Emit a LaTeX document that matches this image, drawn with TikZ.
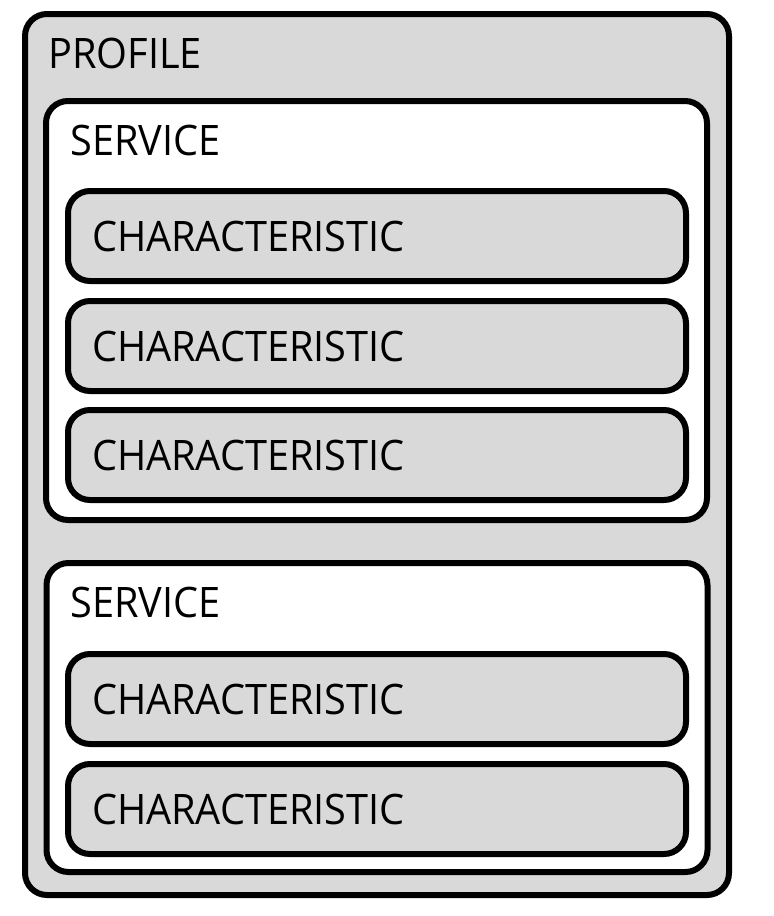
\documentclass[tikz,border=0pt]{standalone}
\usepackage{fontspec}
\setmainfont{Open Sans}[FakeStretch=0.945]
\definecolor{boxgray}{RGB}{217,217,217}

\begin{document}
\begin{tikzpicture}[
  x=0.5pt, y=-0.5pt,
  frame/.style={draw, line width=3pt, rounded corners=11pt, inner sep=0pt},
  profilebox/.style={frame, fill=boxgray, minimum width=352pt, minimum height=440.5pt},
  servicebox/.style={frame, fill=white, minimum width=330.5pt},
  charbox/.style={frame, fill=boxgray, minimum width=309pt, minimum height=45pt,
    text width=285pt, inner xsep=12pt, align=left, font=\titlefont},
  title/.style={anchor=base west, inner sep=0pt, font=\titlefont}
]
\newcommand{\titlefont}{\fontsize{21}{25}\selectfont}
\useasboundingbox (0,0) rectangle (774,916);

\node[profilebox] (profile) at (377,454.5) {};
\node[title] (profiletitle) at (48,68) {PROFILE};

% first service
\node[servicebox, minimum height=209.5pt] (svc1) at (376.5,310.5) {};
\node[title] (svc1title) at (70,155) {SERVICE};
\node[charbox] (char1) at (377,236) {CHARACTERISTIC};
\node[charbox] (char2) at (377,346) {CHARACTERISTIC};
\node[charbox] (char3) at (377,455) {CHARACTERISTIC};

% second service
\node[servicebox, minimum height=154.5pt] (svc2) at (377,717.5) {};
\node[title] (svc2title) at (70,617) {SERVICE};
\node[charbox] (char4) at (377,699) {CHARACTERISTIC};
\node[charbox] (char5) at (377,809) {CHARACTERISTIC};
\end{tikzpicture}
\end{document}
